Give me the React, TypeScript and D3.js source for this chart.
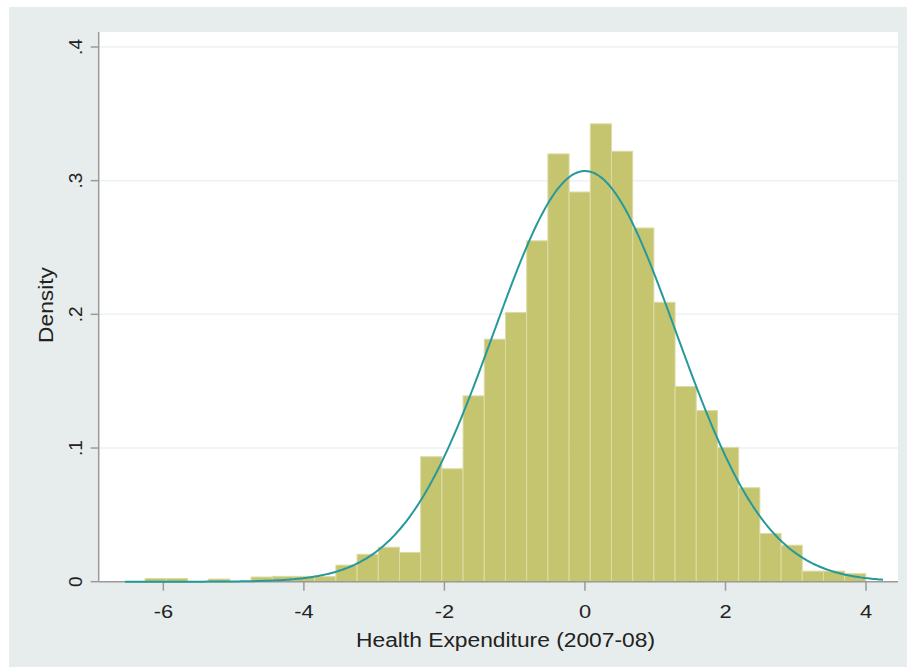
import React from "react";
import * as d3 from "d3";

// Histogram bins (start, width) and densities
const binStart = -6.26;
const binWidth = 0.3017;
const densities = [
  0.0024, 0.0024, 0, 0.002, 0, 0.0035, 0.004, 0.004, 0.0038, 0.0124,
  0.0205, 0.0258, 0.0219, 0.0935, 0.0845, 0.139, 0.1814, 0.2014, 0.255, 0.32,
  0.2915, 0.3425, 0.322, 0.2646, 0.209, 0.146, 0.128, 0.1005, 0.0703, 0.0361,
  0.0273, 0.0079, 0.0079, 0.006,
];
// Normal overlay parameters and range
const normalMean = 0.0;
const normalSd = 1.2986;
const curveRange = [-6.545, 4.242];
const xTicks = [-6, -4, -2, 0, 2, 4];
const yTicks = [0, 0.1, 0.2, 0.3, 0.4];
const yTickLabels = ["0", ".1", ".2", ".3", ".4"];
const xTitle = "Health Expenditure (2007-08)";
const yTitle = "Density";

export default function App() {
  const W = 908, H = 668;
  const plotL = 98.7, plotR = 898, plotT = 32, plotB = 581.7;
  const x = d3.scaleLinear().domain([-6.92, 4.455]).range([plotL, plotR]);
  const y = d3.scaleLinear().domain([0, 0.4112]).range([plotB, plotT]);

  const bars = densities.map((d, i) => {
    const x0 = binStart + i * binWidth;
    return { x0, x1: x0 + binWidth, d };
  });

  const pdf = (v: number) =>
    Math.exp(-0.5 * ((v - normalMean) / normalSd) ** 2) / (normalSd * Math.sqrt(2 * Math.PI));
  const pts = d3.range(0, 401).map((i) => {
    const v = curveRange[0] + ((curveRange[1] - curveRange[0]) * i) / 400;
    return [v, pdf(v)] as [number, number];
  });
  const line = d3.line<[number, number]>().x((p) => x(p[0])).y((p) => y(p[1]))(pts) || "";

  const font = "'Liberation Sans', Arial, Helvetica, sans-serif";
  const axisColor = "#9a9a9a";

  return (
    <svg width={W} height={H} style={{ position: "absolute", left: 0, top: 0 }} fontFamily={font}>
      <rect x={0} y={0} width={W} height={H} fill="#ffffff" />
      <rect x={9} y={7} width={898} height={660} fill="#e7eded" />
      <rect x={plotL} y={plotT} width={plotR - plotL} height={plotB - plotT} fill="#ffffff" />
      {yTicks.slice(1).map((t) => (
        <line key={t} x1={plotL} x2={plotR} y1={y(t)} y2={y(t)} stroke="#edf2f2" strokeWidth={1.5} />
      ))}
      {bars.map((b, i) =>
        b.d > 0 ? (
          <rect
            key={i}
            x={x(b.x0)}
            y={y(b.d)}
            width={x(b.x1) - x(b.x0)}
            height={plotB - y(b.d)}
            fill="#c6c56f"
            stroke="#dcdba6"
            strokeWidth={1}
          />
        ) : null
      )}
      {/* axes */}
      <line x1={plotL} x2={plotL} y1={plotT} y2={plotB} stroke={axisColor} strokeWidth={1.5} />
      <line x1={plotL} x2={plotR} y1={plotB} y2={plotB} stroke={axisColor} strokeWidth={1.5} />
      {yTicks.map((t, i) => (
        <g key={t}>
          <line x1={plotL - 8} x2={plotL} y1={y(t)} y2={y(t)} stroke={axisColor} strokeWidth={1.5} />
          <text
            transform={`translate(82,${y(t)}) rotate(-90)`}
            textAnchor="middle"
            fontSize={19}
            fill="#222"
          >
            {yTickLabels[i]}
          </text>
        </g>
      ))}
      {xTicks.map((t) => (
        <g key={t}>
          <line x1={x(t)} x2={x(t)} y1={plotB} y2={plotB + 9} stroke={axisColor} strokeWidth={1.5} />
          <text
            transform={`translate(${x(t)},618.3) scale(1.15,1)`}
            textAnchor="middle"
            fontSize={19}
            fill="#222"
          >
            {t}
          </text>
        </g>
      ))}
      <path d={line} fill="none" stroke="#27999a" strokeWidth={2} />
      <text
        x={505.5}
        y={647.3}
        textAnchor="middle"
        fontSize={20}
        textLength={299}
        lengthAdjust="spacingAndGlyphs"
        fill="#222"
      >
        {xTitle}
      </text>
      <text
        transform={`translate(53,305) rotate(-90)`}
        textAnchor="middle"
        fontSize={20}
        textLength={76}
        lengthAdjust="spacingAndGlyphs"
        fill="#222"
      >
        {yTitle}
      </text>
    </svg>
  );
}
